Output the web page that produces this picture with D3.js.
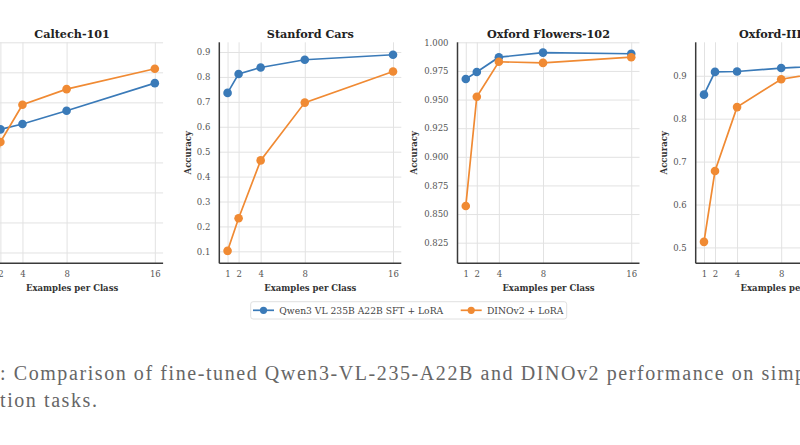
<!DOCTYPE html>
<html>
<head>
<meta charset="utf-8">
<script src="https://cdn.jsdelivr.net/npm/d3@7/dist/d3.min.js"></script>
<style>
  html, body { margin: 0; padding: 0; background: #fff; }
  svg { display: block; }
</style>
</head>
<body>
<div id="chart"></div>
<script>
// examples per class (x values)
var shots = [1, 2, 4, 8, 16];

var panelTitles = ["Caltech-101", "Stanford Cars", "Oxford Flowers-102", "Oxford-IIIT Pet"];

// accuracy per panel, same order as panelTitles
var qwenAcc = [
	[0.915, 0.9275, 0.932, 0.943, 0.966],
	[0.736, 0.812, 0.838, 0.869, 0.889],
	[0.968, 0.974, 0.987, 0.991, 0.990],
	[0.856, 0.909, 0.910, 0.918, 0.928]
];
var dinoAcc = [
	[0.866, 0.917, 0.948, 0.961, 0.978],
	[0.102, 0.233, 0.465, 0.697, 0.822],
	[0.857, 0.9525, 0.983, 0.982, 0.987],
	[0.513, 0.678, 0.827, 0.892, 0.925]
];

// y tick labels per panel
var yTickLabels = [
	["0.825", "0.850", "0.875", "0.900", "0.925", "0.950", "0.975", "1.000"],
	["0.1", "0.2", "0.3", "0.4", "0.5", "0.6", "0.7", "0.8", "0.9"],
	["0.825", "0.850", "0.875", "0.900", "0.925", "0.950", "0.975", "1.000"],
	["0.5", "0.6", "0.7", "0.8", "0.9"]
];

var seriesNames = ["Qwen3 VL 235B A22B SFT + LoRA", "DINOv2 + LoRA"];
var seriesColors = ["#3a7ab8", "#f08a33"];

var captionLines = [
	": Comparison of fine-tuned Qwen3-VL-235-A22B and DINOv2 performance on simple image",
	"tion tasks."
];

function init() {
	var W = 800, H = 445;
	var panelStep = 238.2;
	var firstLeft = -18.9;
	var pw = 182, top = 42.3, bottom = 263.3;
	var serif = "DejaVu Serif, Liberation Serif, serif";

	var svg = d3.select("#chart")
		.append("svg")
		.attr("width", W)
		.attr("height", H);

	panelTitles.forEach(function(title, p) {
		var left = firstLeft + p * panelStep;
		var all = qwenAcc[p].concat(dinoAcc[p]);
		var yMin = d3.min(all) - 0.05;
		var yMax = Math.min(1, d3.max(all) + 0.05);

		var xScale = d3.scaleLinear().domain([0.25, 16.75]).range([left, left + pw]);
		var yScale = d3.scaleLinear().domain([yMin, yMax]).range([bottom, top]);

		var g = svg.append("g");

		// grid lines via axes
		var yTicks = yTickLabels[p].map(Number);
		var yAxis = d3.axisLeft(yScale)
			.tickValues(yTicks)
			.tickFormat(function(d, i) { return yTickLabels[p][i]; })
			.tickSize(-pw)
			.tickSizeOuter(0)
			.tickPadding(9);
		var ya = g.append("g")
			.attr("transform", "translate(" + left + ",0)")
			.call(yAxis);
		ya.select(".domain").remove();
		ya.selectAll("line").attr("stroke", "#e2e2e2").attr("stroke-width", 1);
		ya.selectAll("text")
			.attr("font-family", serif)
			.attr("font-size", "8.5px")
			.attr("fill", "#555");

		var xAxis = d3.axisBottom(xScale)
			.tickValues(shots)
			.tickFormat(d3.format("d"))
			.tickSize(-(bottom - top))
			.tickSizeOuter(0)
			.tickPadding(8);
		var xa = g.append("g")
			.attr("transform", "translate(0," + bottom + ")")
			.call(xAxis);
		xa.select(".domain").remove();
		xa.selectAll("line").attr("stroke", "#e2e2e2").attr("stroke-width", 1);
		xa.selectAll("text")
			.attr("font-family", serif)
			.attr("font-size", "8.5px")
			.attr("fill", "#555");

		// spines
		g.append("line")
			.attr("x1", left).attr("x2", left)
			.attr("y1", top).attr("y2", bottom)
			.attr("stroke", "#3a3a3a").attr("stroke-width", 1.5);
		g.append("line")
			.attr("x1", left).attr("x2", left + pw)
			.attr("y1", bottom).attr("y2", bottom)
			.attr("stroke", "#3a3a3a").attr("stroke-width", 1.5);

		// title and labels
		g.append("text")
			.attr("x", left + pw / 2)
			.attr("y", 38.3)
			.attr("text-anchor", "middle")
			.attr("font-family", serif)
			.attr("font-weight", "bold")
			.attr("font-size", "11.2px")
			.attr("fill", "#222")
			.text(title);

		g.append("text")
			.attr("x", left + pw / 2)
			.attr("y", 291)
			.attr("text-anchor", "middle")
			.attr("font-family", serif)
			.attr("font-weight", "bold")
			.attr("font-size", "8.5px")
			.attr("fill", "#333")
			.text("Examples per Class");

		var labOff = yTickLabels[p][0].length > 3 ? 43.3 : 31.7;
		g.append("text")
			.attr("transform", "translate(" + (left - labOff + 3) + "," + ((top + bottom) / 2) + ") rotate(-90)")
			.attr("text-anchor", "middle")
			.attr("font-family", serif)
			.attr("font-weight", "bold")
			.attr("font-size", "8.5px")
			.attr("fill", "#333")
			.text("Accuracy");

		// lines and markers
		[qwenAcc[p], dinoAcc[p]].forEach(function(vals, s) {
			var line = d3.line()
				.x(function(d, i) { return xScale(shots[i]); })
				.y(function(d) { return yScale(d); });
			g.append("path")
				.datum(vals)
				.attr("d", line)
				.attr("fill", "none")
				.attr("stroke", seriesColors[s])
				.attr("stroke-width", 1.7);
			g.selectAll(".dot" + s)
				.data(vals)
				.enter()
				.append("circle")
				.attr("cx", function(d, i) { return xScale(shots[i]); })
				.attr("cy", function(d) { return yScale(d); })
				.attr("r", 4.3)
				.attr("fill", seriesColors[s]);
		});
	});

	// legend
	var lg = svg.append("g");
	lg.append("rect")
		.attr("x", 250.7).attr("y", 301.7)
		.attr("width", 316).attr("height", 17.3)
		.attr("rx", 2.5)
		.attr("fill", "#fff")
		.attr("stroke", "#d8d8d8")
		.attr("stroke-width", 0.8);
	var legX = [253, 460.7];
	seriesNames.forEach(function(name, s) {
		lg.append("line")
			.attr("x1", legX[s]).attr("x2", legX[s] + 21)
			.attr("y1", 310.3).attr("y2", 310.3)
			.attr("stroke", seriesColors[s]).attr("stroke-width", 1.7);
		lg.append("circle")
			.attr("cx", legX[s] + 10.5).attr("cy", 310.3)
			.attr("r", 3.6)
			.attr("fill", seriesColors[s]);
		lg.append("text")
			.attr("x", legX[s] + 26.3)
			.attr("y", 313.5)
			.attr("font-family", serif)
			.attr("font-size", "9.2px")
			.attr("fill", "#444")
			.text(name);
	});

	// caption
	svg.selectAll(".caption")
		.data(captionLines)
		.enter()
		.append("text")
		.attr("class", "caption")
		.attr("x", 0)
		.attr("y", function(d, i) { return 380 + i * 27; })
		.attr("font-family", "Liberation Serif")
		.attr("font-size", "20px")
		.attr("letter-spacing", "1.58px")
		.attr("fill", "#666")
		.text(function(d) { return d; });
}

window.onload = init;
</script>
</body>
</html>
